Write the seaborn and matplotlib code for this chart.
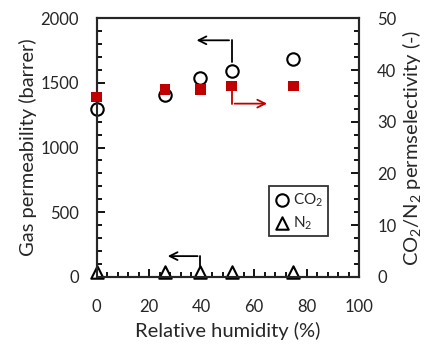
import matplotlib
matplotlib.use('Agg')
import matplotlib.pyplot as plt
import seaborn as sns
import pandas as pd
from matplotlib.ticker import MultipleLocator

sns.set_style('ticks')
plt.rcParams['font.family'] = ['Lato', 'DejaVu Sans']
plt.rcParams['mathtext.fontset'] = 'custom'
plt.rcParams['mathtext.rm'] = 'Lato'

rh = [0, 26, 39.5, 51.5, 75]
co2_perm = [1295, 1410, 1535, 1595, 1685]
n2_perm = [38, 36, 38, 38, 38]
selectivity = [34.8, 36.3, 36.3, 36.9, 36.9]

df = pd.DataFrame({'rh': rh, 'CO2': co2_perm, 'N2': n2_perm, 'sel': selectivity})

fig, ax = plt.subplots(figsize=(4.3, 3.46), dpi=100)
ax2 = ax.twinx()

sns.scatterplot(x='rh', y='CO2', data=df, ax=ax, marker='o', s=80,
                facecolor='white', edgecolor='black', linewidth=1.5,
                label='CO$_2$', zorder=3, clip_on=False)
sns.scatterplot(x='rh', y='N2', data=df, ax=ax, marker='^', s=80,
                facecolor='white', edgecolor='black', linewidth=1.5,
                label='N$_2$', zorder=3, clip_on=False)
sns.scatterplot(x='rh', y='sel', data=df, ax=ax2, marker='s', s=60,
                color='#c00000', edgecolor='none', zorder=3, legend=False,
                clip_on=False)

ax.set_xlim(0, 100)
ax.set_ylim(0, 2000)
ax2.set_ylim(0, 50)
ax.xaxis.set_major_locator(MultipleLocator(20))
ax.xaxis.set_minor_locator(MultipleLocator(4))
ax.yaxis.set_major_locator(MultipleLocator(500))
ax.yaxis.set_minor_locator(MultipleLocator(100))
ax2.yaxis.set_major_locator(MultipleLocator(10))
ax2.yaxis.set_minor_locator(MultipleLocator(2.5))

for a in (ax, ax2):
    a.tick_params(which='both', direction='in', width=1.3, labelsize=12, color='black')
    a.tick_params(which='major', length=6, pad=13)
    a.tick_params(which='minor', length=3.5)
    for sp in a.spines.values():
        sp.set_linewidth(1.5)
ax.tick_params(axis='x', which='major', pad=16)

ax.set_xlabel('Relative humidity (%)', fontsize=14.5, labelpad=5)
ax.set_ylabel('Gas permeability (barrer)', fontsize=14.5, labelpad=2)
ax2.set_ylabel('CO$_2$/N$_2$ permselectivity (-)', fontsize=14.5, labelpad=3)

# arrows pointing to the axis each series belongs to
kw = dict(arrowstyle='->', lw=1.3, mutation_scale=14)
ax.annotate('', xy=(37, 1830), xytext=(51.5, 1830),
            arrowprops=dict(color='black', **kw))
ax.plot([51.5, 51.5], [1830, 1660], color='black', lw=1.3)
ax.annotate('', xy=(26, 160), xytext=(39.5, 160),
            arrowprops=dict(color='black', **kw))
ax.plot([39.5, 39.5], [160, 85], color='black', lw=1.3)
ax.annotate('', xy=(66, 1340), xytext=(51.5, 1340),
            arrowprops=dict(color='#c00000', **kw))
ax.plot([51.5, 51.5], [1340, 1440], color='#c00000', lw=1.3)

leg = ax.legend(loc='upper left', bbox_to_anchor=(0.655, 0.35), frameon=True,
                fancybox=False, edgecolor='black', fontsize=11,
                handletextpad=0.1, borderpad=0.3, labelspacing=0.35,
                handlelength=1.2, borderaxespad=0)
leg.get_frame().set_linewidth(1.3)

fig.subplots_adjust(left=0.225, right=0.835, top=0.947, bottom=0.2)
fig.savefig('out.png', dpi=100)
